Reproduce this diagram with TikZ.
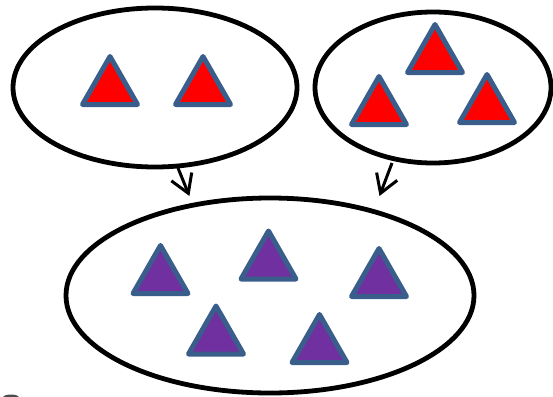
\documentclass[tikz,border=0pt]{standalone}
\usetikzlibrary{arrows.meta,shapes.geometric}
\definecolor{tribord}{HTML}{3A5E8C}
\definecolor{trired}{HTML}{FF0000}
\definecolor{tripurple}{HTML}{7030A0}
\newcommand\mytri[3]{\draw[#1] (#2-27.5,#3) -- (#2+27.5,#3) -- (#2,#3-48) -- cycle;}
\begin{document}
\begin{tikzpicture}[x=1pt,y=-1pt,
  setshape/.style={draw=black, line width=4.8pt, ellipse, inner sep=0pt, outer sep=0pt},
  redtri/.style={draw=tribord, fill=trired, line width=5pt, line join=round},
  purptri/.style={draw=tribord, fill=tripurple, line width=5pt, line join=round},
  flow/.style={draw=black, line width=3pt, -{Straight Barb[length=18pt,width=22pt]}}
]
\useasboundingbox (0,0) rectangle (553,396);
\clip (0,0) rectangle (553,396);
% sets
\node[setshape, minimum width=284pt, minimum height=159pt] (left) at (155,87.5) {};
\node[setshape, minimum width=236pt, minimum height=151pt] (right) at (433,87.5) {};
\node[setshape, minimum width=408pt, minimum height=195pt] (union) at (270,295.5) {};
% red triangles
\mytri{redtri}{110}{104.5}
\mytri{redtri}{203}{104.5}
\mytri{redtri}{435}{72.5}
\mytri{redtri}{379}{124.5}
\mytri{redtri}{487}{122.5}
% purple triangles
\mytri{purptri}{160.5}{293.5}
\mytri{purptri}{268.5}{279}
\mytri{purptri}{379}{296.5}
\mytri{purptri}{216}{354}
\mytri{purptri}{319.5}{362.5}
% arrows
\coordinate (a1s) at (178,168);
\coordinate (a1e) at (189.4,196);
\coordinate (a2s) at (392,163);
\coordinate (a2e) at (379.5,196);
\draw[flow] (a1s) -- (a1e);
\draw[flow] (a2s) -- (a2e);
% corner sliver
\fill[black!70] (11,397.5) ellipse [x radius=8, y radius=3];
\end{tikzpicture}
\end{document}
